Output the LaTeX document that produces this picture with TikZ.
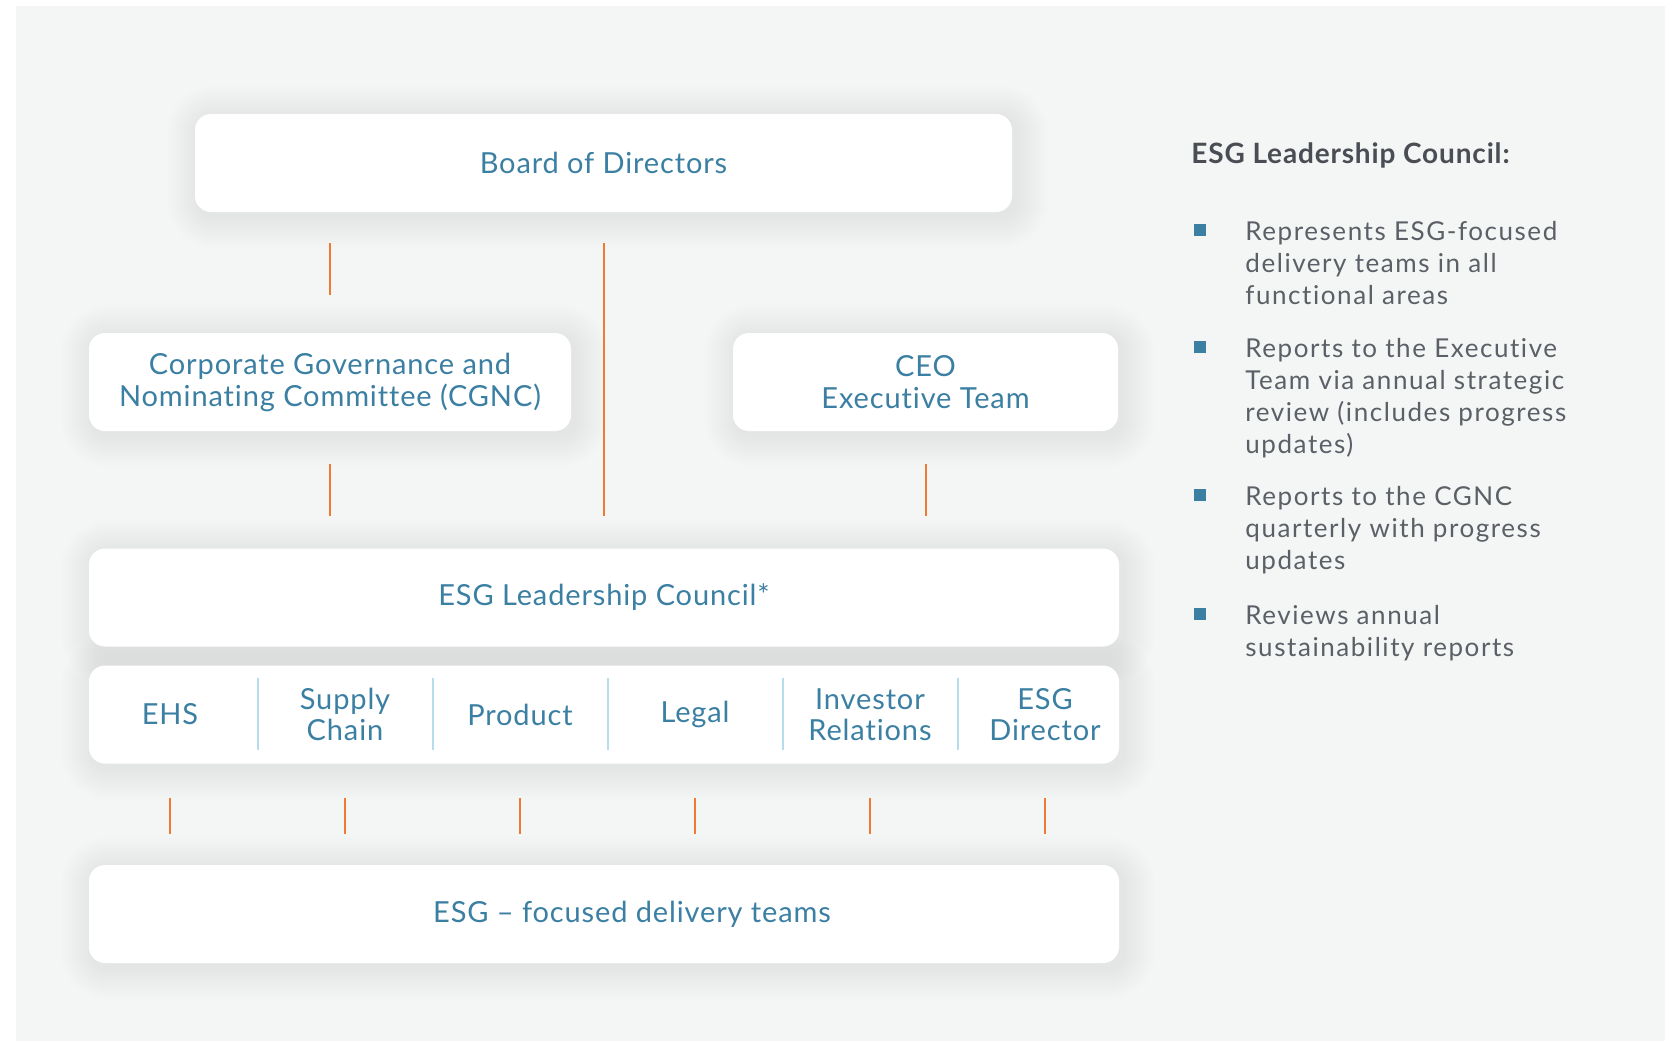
\documentclass[tikz,border=0pt]{standalone}
\usepackage{fontspec}
\setmainfont{Lato}[Ligatures=NoCommon, LetterSpace=3]
\newfontfamily\notefont{Lato}[Ligatures=NoCommon, LetterSpace=6]
\usetikzlibrary{positioning}

\definecolor{panelgray}{HTML}{F4F5F5}
\definecolor{boxtext}{HTML}{3B7FA3}
\definecolor{linkorange}{HTML}{EE7B30}
\definecolor{splitblue}{HTML}{B5DDEC}
\definecolor{notegray}{HTML}{5B6066}
\definecolor{headgray}{HTML}{4A4E54}
\definecolor{haze}{HTML}{3A4A60}

\pgfdeclarelayer{shade}
\pgfsetlayers{shade,main}

% soft halo under a box, built from faint stacked rectangles
\newcommand{\boxshadow}[1]{%
  \begin{pgfonlayer}{shade}
    \foreach \r in {1,...,16}
      \fill[haze, opacity=0.0055, rounded corners=\r pt+8pt]
        ([xshift=-\r pt+2pt, yshift=\r pt-2pt]#1.north west) rectangle
        ([xshift=\r pt+2pt, yshift=-\r pt-2pt]#1.south east);
  \end{pgfonlayer}}

\tikzset{
  orgbox/.style={rectangle, rounded corners=8pt, fill=white, align=center,
    text=boxtext, font=\fontsize{14.5}{16}\selectfont, minimum height=49pt},
  cell/.style={align=center, text=boxtext, font=\fontsize{14.5}{15.5}\selectfont,
    text width=80pt, inner xsep=3.75pt},
  link/.style={draw=linkorange, line width=1pt},
  split/.style={draw=splitblue, line width=0.8pt},
  notetext/.style={anchor=base west, inner sep=0pt, align=left, text=notegray,
    font=\notefont\fontsize{13}{16}\selectfont},
  bulletmark/.style={rectangle, fill=boxtext, minimum size=6pt, inner sep=0pt}
}

\begin{document}
\begin{tikzpicture}[x=0.5pt, y=-0.5pt]
    \useasboundingbox (0,0) rectangle (1674,1041);
    \begin{pgfonlayer}{shade}
      \fill[white] (0,0) rectangle (1674,1041);
      \fill[panelgray] (16,6) rectangle (1665,1041);
    \end{pgfonlayer}

    %-----Boxes-----

    % Board
    \node[orgbox, minimum width=408.5pt] (board) at (603.5,163) {Board of Directors};

    % Committee and executives
    \node[orgbox, minimum width=241pt] (cgnc) at (330,382) {Corporate Governance and\\Nominating Committee (CGNC)};
    \node[orgbox, minimum width=192.5pt] (ceo) at (925.5,382) {CEO\\Executive Team};

    % Council
    \node[orgbox, minimum width=515pt] (council) at (604,597.5) {ESG Leadership Council*};

    % Functional areas row
    \node[orgbox, minimum width=515pt] (row) at (604,714.5) {};
    \node[cell] (ehs) at (170,714.5) {EHS};
    \node[cell] (supply) at (345,714.5) {Supply\\Chain};
    \node[cell] (product) at (520,714.5) {Product};
    \node[cell] (legal) at (695,714.5) {Legal};
    \node[cell] (investor) at (870,714.5) {Investor\\Relations};
    \node[cell] (director) at (1045,714.5) {ESG\\Director};

    % Delivery teams
    \node[orgbox, minimum width=515pt] (delivery) at (604,914) {\hspace*{28pt}ESG -- focused delivery teams};

    % Shadows
    \boxshadow{board}
    \boxshadow{cgnc}
    \boxshadow{ceo}
    \boxshadow{council}
    \boxshadow{row}
    \boxshadow{delivery}

    %-----Row dividers-----
    \draw[split] ([yshift=-6.5pt]ehs.east |- row.north) -- ([yshift=7pt]ehs.east |- row.south);
    \draw[split] ([yshift=-6.5pt]supply.east |- row.north) -- ([yshift=7pt]supply.east |- row.south);
    \draw[split] ([yshift=-6.5pt]product.east |- row.north) -- ([yshift=7pt]product.east |- row.south);
    \draw[split] ([yshift=-6.5pt]legal.east |- row.north) -- ([yshift=7pt]legal.east |- row.south);
    \draw[split] ([yshift=-6.5pt]investor.east |- row.north) -- ([yshift=7pt]investor.east |- row.south);

    %-----Reporting lines-----

    % Board to CGNC and Council
    \draw[link, shorten <=15.5pt, shorten >=19pt] (board.south -| cgnc.north) -- (cgnc.north);
    \draw[link, shorten <=15.5pt, shorten >=16pt] (board.south) -- (board.south |- council.north);

    % CGNC and CEO to Council
    \draw[link, shorten <=16.5pt, shorten >=16pt] (cgnc.south) -- (cgnc.south |- council.north);
    \draw[link, shorten <=16.5pt, shorten >=16pt] (ceo.south) -- (ceo.south |- council.north);

    % Functional areas to delivery teams
    \draw[link, shorten <=17pt, shorten >=15.5pt] (ehs |- row.south) -- (ehs |- delivery.north);
    \draw[link, shorten <=17pt, shorten >=15.5pt] (supply |- row.south) -- (supply |- delivery.north);
    \draw[link, shorten <=17pt, shorten >=15.5pt] (product |- row.south) -- (product |- delivery.north);
    \draw[link, shorten <=17pt, shorten >=15.5pt] (legal |- row.south) -- (legal |- delivery.north);
    \draw[link, shorten <=17pt, shorten >=15.5pt] (investor |- row.south) -- (investor |- delivery.north);
    \draw[link, shorten <=17pt, shorten >=15.5pt] (director |- row.south) -- (director |- delivery.north);

    %-----Council notes-----
    \node[anchor=west, inner sep=0pt, text=headgray, font=\bfseries\fontsize{14}{16}\selectfont] (notehead) at (1191,155) {ESG Leadership Council:};

    % items sit on the baseline of their last line
    \node[notetext] (item1) at (1245,304) {Represents ESG-focused\\delivery teams in all\\functional areas};
    \node[notetext] (item2) at (1245,453) {Reports to the Executive\\Team via annual strategic\\review (includes progress\\updates)};
    \node[notetext] (item3) at (1245,569) {Reports to the CGNC\\quarterly with progress\\updates};
    \node[notetext] (item4) at (1245,656) {Reviews annual\\sustainability reports};

    \node[bulletmark] (mark1) at (1200,230) {};
    \node[bulletmark] (mark2) at (1200,347) {};
    \node[bulletmark] (mark3) at (1200,495) {};
    \node[bulletmark] (mark4) at (1200,614) {};
\end{tikzpicture}
\end{document}
